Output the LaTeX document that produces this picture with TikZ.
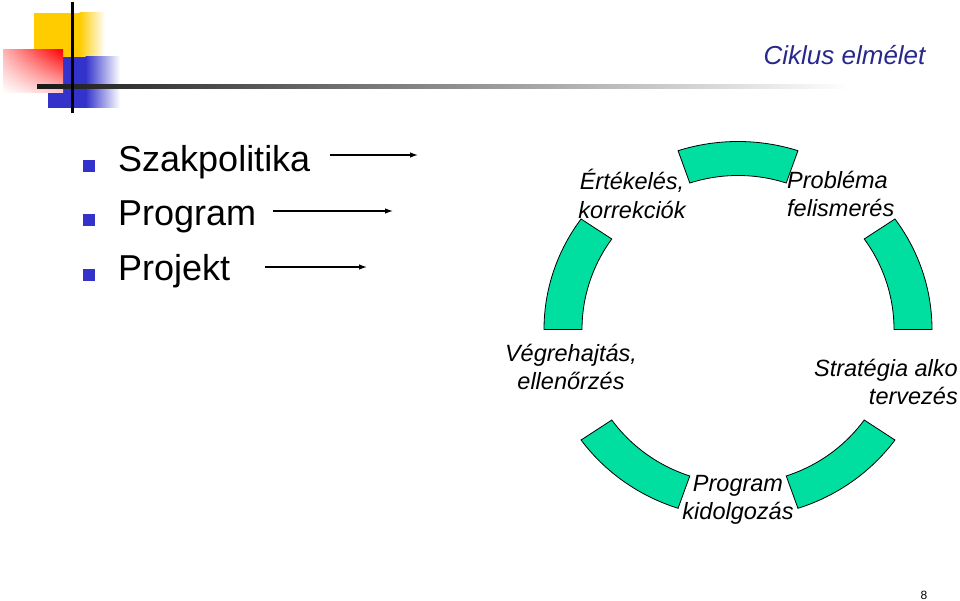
\documentclass[tikz,border=0pt]{standalone}
\usepackage{fontspec}
\setmainfont{Liberation Sans}
\usetikzlibrary{arrows.meta,calc,shadings}
\definecolor{logoyellow}{RGB}{255,204,0}
\definecolor{logoblue}{RGB}{51,51,204}
\definecolor{titleblue}{RGB}{40,40,140}
\definecolor{cyclegreen}{RGB}{0,222,160}

\begin{document}
\begin{tikzpicture}[x = 1pt, y = 1pt,
        segment/.style = {draw = black, line width = 0.8pt, fill = cyclegreen},
        phase/.style = {font = \fontsize{23.5}{28.5}\selectfont\itshape, inner sep = 0pt},
        item/.style = {font = \fontsize{36}{40}\selectfont, anchor = base west, inner sep = 0pt},
        itemarrow/.style = {-{Latex[length = 8pt, width = 5.5pt]}, line width = 1.2pt}]
            \useasboundingbox (0, 0) rectangle (960, 600);

            % Logo and rule
            \fill [logoyellow] (34, 543) rectangle (80, 587);
            \shade [left color = logoyellow, right color = white] (79.5, 543) rectangle (105, 587);
            \fill [logoblue] (48, 492) rectangle (86, 543);
            \shade [left color = logoblue, right color = white] (85.5, 492) rectangle (120, 543);
            \shade [upper left = red!30, upper right = red, lower left = white, lower right = red!20] (3, 507) rectangle (63, 550);
            \shade [left color = black!90, right color = white] (37, 511) rectangle (850, 515);
            \fill [black] (70.5, 487) rectangle (74, 598);

            % Title
            \node [titleblue, font = \fontsize{26}{30}\selectfont\itshape, anchor = east] (title) at (929, 545) {Ciklus elmélet};

            % Bullet list
            \fill [logoblue] (83, 428) rectangle ++(12, 12);
            \fill [logoblue] (83, 374) rectangle ++(12, 12);
            \fill [logoblue] (83, 319) rectangle ++(12, 12);
            \node [item] (szak) at (118, 428) {Szakpolitika};
            \node [item] (prog) at (118, 374) {Program};
            \node [item] (proj) at (118, 319) {Projekt};

            % Arrows after the list
            \coordinate (szak-from) at (330, 445);
            \coordinate (szak-to) at (418, 445);
            \coordinate (prog-from) at (273, 389);
            \coordinate (prog-to) at (393, 389);
            \coordinate (proj-from) at (265, 333);
            \coordinate (proj-to) at (367, 333);
            \draw [itemarrow] (szak-from) -- (szak-to);
            \draw [itemarrow] (prog-from) -- (prog-to);
            \draw [itemarrow] (proj-from) -- (proj-to);

            % Cycle segments
            \coordinate (c) at (738, 270.5);
            \foreach \a in {18, 90, 162, 234, 306}
                \draw [segment] ($(c) + ({\a-18}:194 and 188)$)
                    arc [start angle = \a-18, end angle = \a+18, x radius = 194, y radius = 188]
                    -- ($(c) + ({\a+18}:156 and 154)$)
                    arc [start angle = \a+18, end angle = \a-18, x radius = 156, y radius = 154] -- cycle;

            % Phase names
            \node [phase, align = center] (erte) at (632, 406) {Értékelés,\\korrekciók};
            \node [phase, align = left, anchor = west] (probl) at (787, 406) {Probléma\\felismerés};
            \node [phase, align = right, anchor = east] (strat) at (958, 218) {Stratégia alko\\tervezés};
            \node [phase, align = center] (progk) at (738, 100) {Program\\kidolgozás};
            \node [phase, align = center] (vegre) at (571, 233) {Végrehajtás,\\ellenőrzés};

            % Slide number
            \node [font = \fontsize{12}{14}\selectfont] (page) at (924, 5) {8};
        \end{tikzpicture}
\end{document}
